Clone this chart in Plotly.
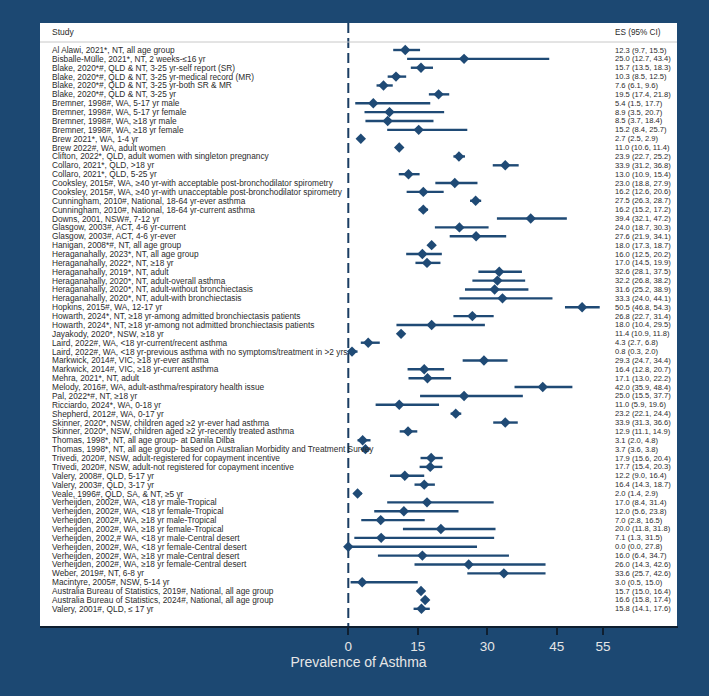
import plotly.graph_objects as go

studies = [
    "Al Alawi, 2021*, NT, all age group",
    "Bisballe-Mülle, 2021*, NT, 2 weeks-≤16 yr",
    "Blake, 2020*#, QLD & NT, 3-25 yr-self report (SR)",
    "Blake, 2020*#, QLD & NT, 3-25 yr-medical record (MR)",
    "Blake, 2020*#, QLD & NT, 3-25 yr-both SR & MR",
    "Blake, 2020*#, QLD & NT, 3-25 yr",
    "Bremner, 1998#, WA, 5-17 yr male",
    "Bremner, 1998#, WA, 5-17 yr female",
    "Bremner, 1998#, WA, ≥18 yr male",
    "Bremner, 1998#, WA, ≥18 yr female",
    "Brew 2021*, WA, 1-4 yr",
    "Brew 2022#, WA, adult women",
    "Clifton, 2022*, QLD, adult women with singleton pregnancy",
    "Collaro, 2021*, QLD, >18 yr",
    "Collaro, 2021*, QLD, 5-25 yr",
    "Cooksley, 2015#, WA, ≥40 yr-with acceptable post-bronchodilator spirometry",
    "Cooksley, 2015#, WA, ≥40 yr-with unacceptable post-bronchodilator spirometry",
    "Cunningham, 2010#, National, 18-64 yr-ever asthma",
    "Cunningham, 2010#, National, 18-64 yr-current asthma",
    "Downs, 2001, NSW#, 7-12 yr",
    "Glasgow, 2003#, ACT, 4-6 yr-current",
    "Glasgow, 2003#, ACT, 4-6 yr-ever",
    "Hanigan, 2008*#, NT, all age group",
    "Heraganahally, 2023*, NT, all age group",
    "Heraganahally, 2022*, NT, ≥18 yr",
    "Heraganahally, 2019*, NT, adult",
    "Heraganahally, 2020*, NT, adult-overall asthma",
    "Heraganahally, 2020*, NT, adult-without bronchiectasis",
    "Heraganahally, 2020*, NT, adult-with bronchiectasis",
    "Hopkins, 2015#, WA, 12-17 yr",
    "Howarth, 2024*, NT, ≥18 yr-among admitted bronchiectasis patients",
    "Howarth, 2024*, NT, ≥18 yr-among not admitted bronchiectasis patients",
    "Jayakody, 2020*, NSW, ≥18 yr",
    "Laird, 2022#, WA, <18 yr-current/recent asthma",
    "Laird, 2022#, WA, <18 yr-previous asthma with no symptoms/treatment in >2 yrs",
    "Markwick, 2014#, VIC, ≥18 yr-ever asthma",
    "Markwick, 2014#, VIC, ≥18 yr-current asthma",
    "Mehra, 2021*, NT, adult",
    "Melody, 2016#, WA, adult-asthma/respiratory health issue",
    "Pal, 2022*#, NT, ≥18 yr",
    "Ricciardo, 2024*, WA, 0-18 yr",
    "Shepherd, 2012#, WA, 0-17 yr",
    "Skinner, 2020*, NSW, children aged ≥2 yr-ever had asthma",
    "Skinner, 2020*, NSW, children aged ≥2 yr-recently treated asthma",
    "Thomas, 1998*, NT, all age group- at Danila Dilba",
    "Thomas, 1998*, NT, all age group- based on Australian Morbidity and Treatment Survey",
    "Trivedi, 2020#, NSW, adult-registered for copayment incentive",
    "Trivedi, 2020#, NSW, adult-not registered for copayment incentive",
    "Valery, 2008#, QLD, 5-17 yr",
    "Valery, 2003#, QLD, 3-17 yr",
    "Veale, 1996#, QLD, SA, & NT, ≥5 yr",
    "Verheijden, 2002#, WA, <18 yr male-Tropical",
    "Verheijden, 2002#, WA, <18 yr female-Tropical",
    "Verheijden, 2002#, WA, ≥18 yr male-Tropical",
    "Verheijden, 2002#, WA, ≥18 yr female-Tropical",
    "Verheijden, 2002,# WA, <18 yr male-Central desert",
    "Verheijden, 2002#, WA, <18 yr female-Central desert",
    "Verheijden, 2002#, WA, ≥18 yr male-Central desert",
    "Verheijden, 2002#, WA, ≥18 yr female-Central desert",
    "Weber, 2019#, NT, 6-8 yr",
    "Macintyre, 2005#, NSW, 5-14 yr",
    "Australia Bureau of Statistics, 2019#, National, all age group",
    "Australia Bureau of Statistics, 2024#, National, all age group",
    "Valery, 2001#, QLD, ≤ 17 yr",
]

es = [12.3, 25.0, 15.7, 10.3, 7.6, 19.5, 5.4, 8.9, 8.5, 15.2, 2.7, 11.0, 23.9, 33.9, 13.0,
      23.0, 16.2, 27.5, 16.2, 39.4, 24.0, 27.6, 18.0, 16.0, 17.0, 32.6, 32.2, 31.6, 33.3,
      50.5, 26.8, 18.0, 11.4, 4.3, 0.8, 29.3, 16.4, 17.1, 42.0, 25.0, 11.0, 23.2, 33.9,
      12.9, 3.1, 3.7, 17.9, 17.7, 12.2, 16.4, 2.0, 17.0, 12.0, 7.0, 20.0, 7.1, 0.0, 16.0,
      26.0, 33.6, 3.0, 15.7, 16.6, 15.8]

ci_low = [9.7, 12.7, 13.5, 8.5, 6.1, 17.4, 1.5, 3.5, 3.7, 8.4, 2.5, 10.6, 22.7, 31.2, 10.9,
          18.8, 12.6, 26.3, 15.2, 32.1, 18.7, 21.9, 17.3, 12.5, 14.5, 28.1, 26.8, 25.2, 24.0,
          46.8, 22.7, 10.4, 10.9, 2.7, 0.3, 24.7, 12.8, 13.0, 35.9, 15.5, 5.9, 22.1, 31.3,
          11.1, 2.0, 3.6, 15.6, 15.4, 9.0, 14.3, 1.4, 8.4, 5.6, 2.8, 11.8, 1.3, 0.0, 6.4,
          14.3, 25.7, 0.5, 15.0, 15.8, 14.1]

ci_high = [15.5, 43.4, 18.3, 12.5, 9.6, 21.8, 17.7, 20.7, 18.4, 25.7, 2.9, 11.4, 25.2, 36.8, 15.4,
           27.9, 20.6, 28.7, 17.2, 47.2, 30.3, 34.1, 18.7, 20.2, 19.9, 37.5, 38.2, 38.9, 44.1,
           54.3, 31.4, 29.5, 11.8, 6.8, 2.0, 34.4, 20.7, 22.2, 48.4, 37.7, 19.6, 24.4, 36.6,
           14.9, 4.8, 3.8, 20.4, 20.3, 16.4, 18.7, 2.9, 31.4, 23.8, 16.5, 31.8, 31.5, 27.8, 34.7,
           42.6, 42.6, 15.0, 16.4, 17.4, 17.6]

tick_vals = [0, 15, 30, 45, 55]
x_title = "Prevalence of Asthma"

W, H = 709, 696
BG = "#1c4872"
MARK = "#1f4a75"
TXT = "#2b2b2b"
FONT = "Liberation Sans, Arial, sans-serif"

# pixel geometry
panel_l, panel_r, panel_t, panel_b = 40, 677, 23, 626
x0_px, ppu = 348.3, 4.63
row0_px, row_h = 50.0, 8.87

xr = [(panel_l - x0_px) / ppu, (panel_r - x0_px) / ppu]
yr = [(panel_b - row0_px) / row_h, (panel_t - row0_px) / row_h]

rows = list(range(len(studies)))

fig = go.Figure()
fig.add_trace(go.Scatter(
    x=es, y=rows, mode="markers",
    marker=dict(symbol="diamond", size=8, color=MARK),
    error_x=dict(type="data", symmetric=False,
                 array=[h - e for h, e in zip(ci_high, es)],
                 arrayminus=[e - l for l, e in zip(ci_low, es)],
                 width=0, thickness=2.4, color=MARK),
    hoverinfo="skip", showlegend=False,
))

annotations = []
for i, (s, e, l, h) in enumerate(zip(studies, es, ci_low, ci_high)):
    annotations.append(dict(x=50 / W, xref="paper", y=i, yref="y", text=s,
                            showarrow=False, xanchor="left", yanchor="middle",
                            font=dict(family=FONT, size=8.3, color=TXT)))
    annotations.append(dict(x=613 / W, xref="paper", y=i, yref="y",
                            text=f"{e:.1f} ({l:.1f}, {h:.1f})",
                            showarrow=False, xanchor="left", yanchor="middle",
                            font=dict(family=FONT, size=7.6, color=TXT)))
hdr_y = (32 - row0_px) / row_h
annotations.append(dict(x=50 / W, xref="paper", y=hdr_y, yref="y", text="Study",
                        showarrow=False, xanchor="left", yanchor="middle",
                        font=dict(family=FONT, size=8.5, color=TXT)))
annotations.append(dict(x=613 / W, xref="paper", y=hdr_y, yref="y", text="ES (95% CI)",
                        showarrow=False, xanchor="left", yanchor="middle",
                        font=dict(family=FONT, size=8.2, color=TXT)))

line_y = (42 - row0_px) / row_h
shapes = [
    # shadow under panel
    dict(type="rect", xref="paper", yref="paper",
         x0=panel_l / W, x1=(panel_r + 1) / W, y0=1 - (panel_b + 2) / H, y1=1 - panel_b / H,
         fillcolor="#0e1e2e", line=dict(width=0), layer="below"),
    # header separator
    dict(type="line", xref="paper", yref="y", x0=panel_l / W, x1=panel_r / W,
         y0=line_y, y1=line_y, line=dict(color="#c8c8c8", width=1)),
    # null line
    dict(type="line", xref="x", yref="y", x0=0, x1=0, y0=yr[1], y1=yr[0],
         line=dict(color="#1a3d63", width=2, dash="10px,5px"), layer="below"),
]

fig.update_layout(
    width=W, height=H,
    margin=dict(l=0, r=0, t=0, b=0),
    paper_bgcolor=BG, plot_bgcolor="white",
    xaxis=dict(domain=[panel_l / W, panel_r / W], range=xr,
               tickvals=tick_vals, ticks="outside", ticklen=8, tickwidth=2,
               tickcolor="#0f1f30", showgrid=False, zeroline=False, showline=False,
               tickfont=dict(family=FONT, size=13.5, color="#e6e6e6"),
               title=dict(text=x_title, standoff=0,
                          font=dict(family=FONT, size=14, color="#e6e6e6"))),
    yaxis=dict(domain=[1 - panel_b / H, 1 - panel_t / H], range=yr,
               showticklabels=False, showgrid=False, zeroline=False, showline=False,
               ticks=""),
    annotations=annotations,
    shapes=shapes,
)

fig.write_html("out.html")
